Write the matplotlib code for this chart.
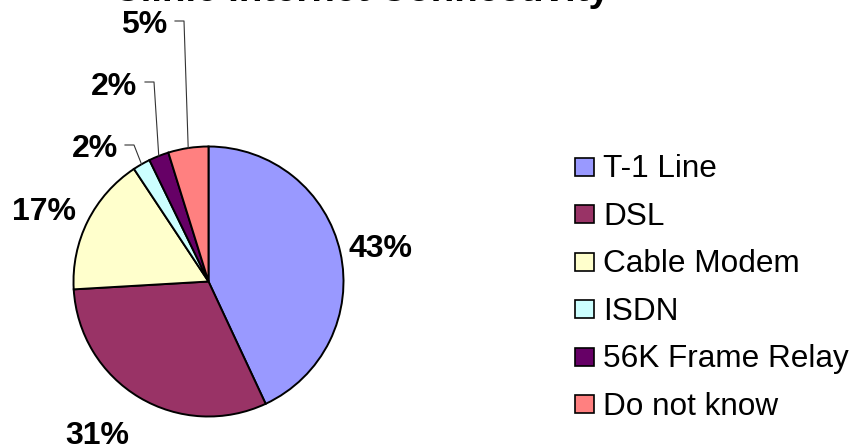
import numpy as np
import matplotlib.pyplot as plt
from matplotlib.patches import Rectangle

plt.rcParams['font.family'] = ['Liberation Sans', 'DejaVu Sans']

# --- DATA ---
title = 'Clinic Internet Connectivity'
categories = ['T-1 Line', 'DSL', 'Cable Modem', 'ISDN', '56K Frame Relay', 'Do not know']
shares = [43.0, 31.0, 16.6, 2.1, 2.4, 4.8]
colors = ['#9999FF', '#993366', '#FFFFCC', '#CCFFFF', '#660066', '#FF8080']

# --- LAYOUT (pixels, y from top) ---
W, H = 853, 448
cx, cy, R = 208.5, 281.5, 135
label_pos = [(381, 257), (97, 444), (44, 220), (95, 157), (114, 95), (144, 33)]  # center x, baseline y
leaders = [None, None, None, (125, 134, 145), (145, 154, 82), (175, 184, 21)]   # x start, elbow x, y

fig = plt.figure(figsize=(W / 100, H / 100), dpi=100)
ax = fig.add_axes([0, 0, 1, 1])

wedges, _ = ax.pie(shares, colors=colors, startangle=90, counterclock=False,
                   center=(cx, H - cy), radius=R,
                   wedgeprops=dict(edgecolor='black', linewidth=1.4))
ax.set_xlim(0, W)
ax.set_ylim(0, H)
ax.set_aspect('equal')
ax.axis('off')

# percent labels + leader lines for the thin slices
total = sum(shares)
cum = 0
for i, s in enumerate(shares):
    mid = np.radians(90 - 360 * (cum + s / 2) / total)
    cum += s
    tx, ty = label_pos[i]
    ax.text(tx, H - ty, f'{round(100 * s / total)}%', ha='center', va='baseline',
            fontsize=23, fontweight='bold')
    if leaders[i]:
        x0, x1, ly = leaders[i]
        ex = cx + R * np.cos(mid)
        ey = cy - R * np.sin(mid)
        ax.plot([x0, x1, ex], [H - ly, H - ly, H - ey], color='#333333', lw=0.8)

# legend, drawn by hand
for i, (name, c) in enumerate(zip(categories, colors)):
    yc = 166.5 + 47.6 * i
    ax.add_patch(Rectangle((575, H - yc - 9), 19, 18, facecolor=c, edgecolor='black', lw=1.2))
    ax.text(603, H - yc - 10.5, name, ha='left', va='baseline', fontsize=22.7)

# title, cut off at the top like the original
ax.text(361, H - 1, title, ha='center', va='baseline', fontsize=27.6, fontweight='bold')

plt.savefig('out.png', dpi=100)
plt.close()
